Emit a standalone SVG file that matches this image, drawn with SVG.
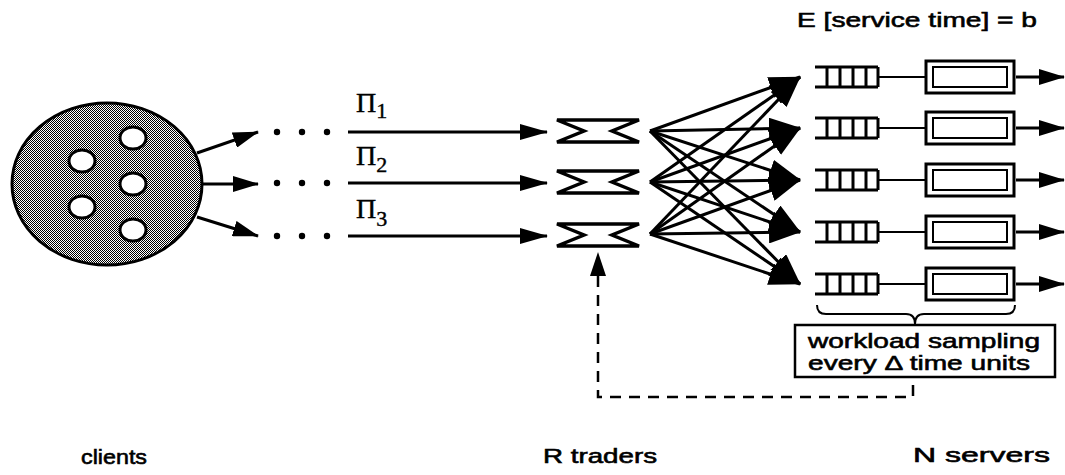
<svg xmlns="http://www.w3.org/2000/svg" width="1065" height="475" viewBox="0 0 1065 475">
  <style>
    .ln { stroke: #000; stroke-width: 3; fill: none; }
    .thin { stroke: #000; stroke-width: 2; fill: none; }
    .lbl { font-family: "Liberation Sans", Arial, sans-serif; font-size: 21px; fill: #000; stroke: #000; stroke-width: 0.6; }
    .pi { font-family: "Liberation Serif", "Times New Roman", serif; fill: #000; stroke: #000; stroke-width: 0.4; }
    .hole { fill: #fff; stroke: #000; stroke-width: 3; }
    .trader { fill: #fff; stroke: #000; stroke-width: 3.5; stroke-linejoin: miter; }
    .q { stroke: #000; stroke-width: 3; fill: none; }
    .srvO { fill: #fff; stroke: #000; stroke-width: 3; }
    .srvI { fill: #fff; stroke: #000; stroke-width: 2; }
  </style>
  <defs>
    <pattern id="stip" width="2" height="2" patternUnits="userSpaceOnUse">
      <rect width="2" height="2" fill="#fff"/>
      <rect x="0" y="0" width="1" height="1" fill="#000"/>
      <rect x="1" y="1" width="1" height="1" fill="#000"/>
    </pattern>
    <marker id="ah" markerUnits="userSpaceOnUse" markerWidth="28" markerHeight="16" refX="27" refY="8" orient="auto">
      <path d="M0,0 L28,8 L0,16 z" fill="#000"/>
    </marker>
    <marker id="ahBig" markerUnits="userSpaceOnUse" markerWidth="32" markerHeight="22" refX="31" refY="11" orient="auto">
      <path d="M0,0 L32,11 L0,22 z" fill="#000"/>
    </marker>
    <marker id="ahSm" markerUnits="userSpaceOnUse" markerWidth="26" markerHeight="16" refX="25" refY="8" orient="auto">
      <path d="M0,0 L26,8 L0,16 z" fill="#000"/>
    </marker>
    <g id="queue">
      <path class="q" d="M815,-10 H878 M815,10 H878 M827,-10 V10 M840,-10 V10 M853,-10 V10 M866,-10 V10 M878,-10 V10"/>
      <path class="thin" d="M878,0 H926"/>
      <rect class="srvO" x="926" y="-16" width="88" height="32"/>
      <rect class="srvI" x="933" y="-10" width="74" height="20"/>
    </g>
    <polygon id="trd" class="trader" points="557,-11 639,-11 612,0 639,11 557,11 584,0"/>
  </defs>

  <!-- clients -->
  <g id="clients">
    <ellipse cx="107" cy="184" rx="95" ry="81" fill="url(#stip)" stroke="#000" stroke-width="3"/>
    <ellipse class="hole" cx="133" cy="138" rx="13" ry="11"/>
    <ellipse class="hole" cx="82" cy="161" rx="13" ry="11"/>
    <ellipse class="hole" cx="133" cy="184" rx="13" ry="11"/>
    <ellipse class="hole" cx="82" cy="207" rx="13" ry="11"/>
    <ellipse class="hole" cx="133" cy="230" rx="13" ry="11"/>
  </g>

  <!-- dots -->
  <g id="dots" fill="#000">
    <circle cx="277" cy="132" r="3.2"/><circle cx="302" cy="132" r="3.2"/><circle cx="327" cy="132" r="3.2"/>
    <circle cx="277" cy="183" r="3.2"/><circle cx="302" cy="183" r="3.2"/><circle cx="327" cy="183" r="3.2"/>
    <circle cx="277" cy="236" r="3.2"/><circle cx="302" cy="236" r="3.2"/><circle cx="327" cy="236" r="3.2"/>
  </g>

  <!-- traders -->
  <g id="trader1"><use href="#trd" y="131"/></g>
  <g id="trader2"><use href="#trd" y="182"/></g>
  <g id="trader3"><use href="#trd" y="235"/></g>

  <!-- servers -->
  <g id="server1"><use href="#queue" y="77"/></g>
  <g id="server2"><use href="#queue" y="128"/></g>
  <g id="server3"><use href="#queue" y="180"/></g>
  <g id="server4"><use href="#queue" y="232"/></g>
  <g id="server5"><use href="#queue" y="284"/></g>

  <!-- workload sampling box -->
  <g id="sampling">
    <path class="thin" d="M817,305 Q817,314 826,314 H906 Q915,314 915,324 Q915,314 924,314 H1006 Q1015,314 1015,305"/>
    <rect x="795" y="325" width="260" height="52" fill="#fff" stroke="#000" stroke-width="2.5"/>
    <text class="lbl" x="808" y="348" font-size="19" textLength="232" lengthAdjust="spacingAndGlyphs">workload sampling</text>
    <text class="lbl" x="808" y="370" font-size="19" textLength="222" lengthAdjust="spacingAndGlyphs">every Δ time units</text>
  </g>

  <!-- connectors -->
  <g id="connectors">
    <line class="ln" x1="197" y1="153" x2="258" y2="132" marker-end="url(#ahSm)"/>
    <line class="ln" x1="203" y1="184" x2="258" y2="184" marker-end="url(#ahSm)"/>
    <line class="ln" x1="197" y1="217" x2="258" y2="236" marker-end="url(#ahSm)"/>

    <line class="ln" x1="348" y1="132" x2="547" y2="132" marker-end="url(#ah)"/>
    <line class="ln" x1="348" y1="183" x2="547" y2="183" marker-end="url(#ah)"/>
    <line class="ln" x1="348" y1="236" x2="547" y2="236" marker-end="url(#ah)"/>

    <g marker-end="url(#ahBig)">
      <line class="ln" x1="650" y1="131" x2="800" y2="77"/>
      <line class="ln" x1="650" y1="131" x2="800" y2="128"/>
      <line class="ln" x1="650" y1="131" x2="800" y2="180"/>
      <line class="ln" x1="650" y1="131" x2="800" y2="232"/>
      <line class="ln" x1="650" y1="131" x2="800" y2="284"/>
      <line class="ln" x1="650" y1="182" x2="800" y2="77"/>
      <line class="ln" x1="650" y1="182" x2="800" y2="128"/>
      <line class="ln" x1="650" y1="182" x2="800" y2="180"/>
      <line class="ln" x1="650" y1="182" x2="800" y2="232"/>
      <line class="ln" x1="650" y1="182" x2="800" y2="284"/>
      <line class="ln" x1="650" y1="234" x2="800" y2="77"/>
      <line class="ln" x1="650" y1="234" x2="800" y2="128"/>
      <line class="ln" x1="650" y1="234" x2="800" y2="180"/>
      <line class="ln" x1="650" y1="234" x2="800" y2="232"/>
      <line class="ln" x1="650" y1="234" x2="800" y2="284"/>
    </g>

    <g marker-end="url(#ahSm)">
      <line class="ln" x1="1016" y1="77" x2="1064" y2="77"/>
      <line class="ln" x1="1016" y1="128" x2="1064" y2="128"/>
      <line class="ln" x1="1016" y1="180" x2="1064" y2="180"/>
      <line class="ln" x1="1016" y1="232" x2="1064" y2="232"/>
      <line class="ln" x1="1016" y1="284" x2="1064" y2="284"/>
    </g>

    <path d="M913,385 V397 H598 V276" fill="none" stroke="#000" stroke-width="2.5" stroke-dasharray="11 8"/>
    <path d="M598,252 L606,276 L590,276 z" fill="#000"/>
  </g>

  <!-- labels -->
  <g id="labels">
    <text class="pi" x="356" y="112" font-size="28">Π<tspan font-size="22" dy="6">1</tspan></text>
    <text class="pi" x="356" y="165" font-size="28">Π<tspan font-size="22" dy="7">2</tspan></text>
    <text class="pi" x="356" y="218" font-size="28">Π<tspan font-size="22" dy="8">3</tspan></text>
    <text class="lbl" x="797" y="27" font-size="22" textLength="240" lengthAdjust="spacingAndGlyphs">E [service time] = b</text>
    <text class="lbl" x="81" y="464" font-size="22" textLength="66" lengthAdjust="spacingAndGlyphs">clients</text>
    <text class="lbl" x="543" y="463" textLength="114" lengthAdjust="spacingAndGlyphs">R traders</text>
    <text class="lbl" x="913" y="462" font-size="22" textLength="137" lengthAdjust="spacingAndGlyphs">N servers</text>
  </g>
</svg>
